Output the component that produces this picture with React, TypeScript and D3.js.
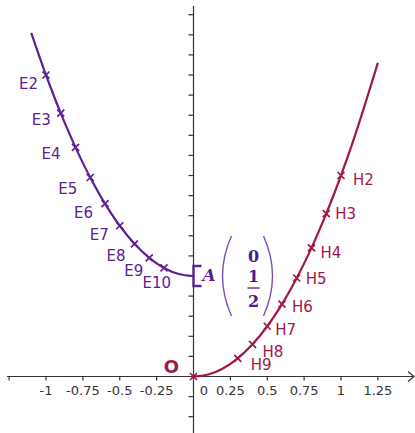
import React, { useRef, useEffect } from "react";
import * as d3 from "d3";

// axis ticks (x in units, y every 0.1, unlabeled)
const xTicks = [-1.25, -1, -0.75, -0.5, -0.25, 0.25, 0.5, 0.75, 1, 1.25];
const xTickLabels = ["", "-1", "-0.75", "-0.5", "-0.25", "0.25", "0.5", "0.75", "1", "1.25"];
const yTicks = d3.range(-3, 19).filter((d) => d !== 0).map((d) => d / 10);

// purple curve, ends at A
const curveE = [
  [-1.1, 1.71], [-1.0, 1.5], [-0.9, 1.31], [-0.8, 1.14], [-0.7, 0.99], [-0.6, 0.86],
  [-0.5, 0.75], [-0.4, 0.66], [-0.3, 0.59], [-0.2, 0.54], [-0.1, 0.51], [0, 0.5],
];
// red curve, starts at O
const curveH = [
  [0, 0], [0.1, 0.01], [0.2, 0.04], [0.3, 0.09], [0.4, 0.16], [0.5, 0.25], [0.6, 0.36],
  [0.7, 0.49], [0.8, 0.64], [0.9, 0.81], [1.0, 1.0], [1.1, 1.21], [1.25, 1.56],
];

const namesE = ["E2", "E3", "E4", "E5", "E6", "E7", "E8", "E9", "E10"];
const xE = [-1, -0.9, -0.8, -0.7, -0.6, -0.5, -0.4, -0.3, -0.2];
const yE = [1.5, 1.31, 1.14, 0.99, 0.86, 0.75, 0.66, 0.59, 0.54];

const namesH = ["H2", "H3", "H4", "H5", "H6", "H7", "H8", "H9"];
const xH = [1, 0.9, 0.8, 0.7, 0.6, 0.5, 0.4, 0.3];
const yH = [1, 0.81, 0.64, 0.49, 0.36, 0.25, 0.16, 0.09];

const pointA = [0, 0.5];
const vectorA = ["0", "1", "2"];

// label nudges (px) relative to the marker
const offE = [[-8, 14], [-10, 12], [-15, 12], [-13, 16], [-12, 14], [-11, 14], [-9, 17], [-6, 18], [7, 20]];
const offH = [[12, 9], [9, 5], [9, 10], [9, 6], [10, 8], [8, 9], [10, 13], [13, 12]];

const PURPLE = "#5d2196";
const RED = "#a0184a";
const AXIS = "#333333";
const SANS = "'DejaVu Sans', sans-serif";
const SERIF = "'DejaVu Serif', serif";

const App = () => {
  const svgRef = useRef(null);

  useEffect(() => {
    const width = 415;
    const height = 433;
    const svg = d3.select(svgRef.current);
    svg.selectAll("*").remove();

    const x = d3.scaleLinear().domain([0, 1]).range([193.5, 341]);
    const y = d3.scaleLinear().domain([0, 1]).range([376.5, 175.5]);

    // axes
    const axes = svg.append("g").attr("stroke", AXIS).attr("stroke-width", 1.2).attr("fill", "none");
    axes.append("line").attr("x1", 7).attr("x2", width - 1).attr("y1", y(0)).attr("y2", y(0));
    axes.append("path").attr("d", `M${width - 7},${y(0) - 5}L${width - 1},${y(0)}L${width - 7},${y(0) + 5}`);
    axes.append("line").attr("x1", x(0)).attr("x2", x(0)).attr("y1", 6).attr("y2", height);

    axes.selectAll(".xt").data(xTicks).join("line")
      .attr("x1", (d) => x(d)).attr("x2", (d) => x(d))
      .attr("y1", y(0)).attr("y2", y(0) + 4);
    axes.selectAll(".yt").data(yTicks).join("line")
      .attr("x1", x(0) - 5).attr("x2", x(0))
      .attr("y1", (d) => y(d)).attr("y2", (d) => y(d));

    const tl = svg.append("g").attr("font-family", SANS).attr("font-size", 13)
      .attr("fill", AXIS).attr("text-anchor", "middle");
    tl.selectAll("text").data(xTicks).join("text")
      .attr("x", (d) => x(d)).attr("y", y(0) + 18.5)
      .text((d, i) => xTickLabels[i]);
    tl.append("text").attr("x", x(0) + 10.5).attr("y", y(0) + 18.5).text("0");

    const line = d3.line().x((d) => x(d[0])).y((d) => y(d[1])).curve(d3.curveCatmullRom);

    svg.append("path").attr("d", line(curveE)).attr("fill", "none")
      .attr("stroke", PURPLE).attr("stroke-width", 2.2);
    svg.append("path").attr("d", line(curveH)).attr("fill", "none")
      .attr("stroke", RED).attr("stroke-width", 2.2);

    const cross = (g, cx, cy, color) => {
      const s = 3.5;
      g.append("path")
        .attr("d", `M${cx - s},${cy - s}L${cx + s},${cy + s}M${cx - s},${cy + s}L${cx + s},${cy - s}`)
        .attr("stroke", color).attr("stroke-width", 1.7).attr("fill", "none");
    };

    const gE = svg.append("g");
    namesE.forEach((n, i) => {
      const cx = x(xE[i]);
      const cy = y(yE[i]);
      cross(gE, cx, cy, PURPLE);
      gE.append("text").attr("x", cx + offE[i][0]).attr("y", cy + offE[i][1])
        .attr("text-anchor", "end").attr("font-family", SANS).attr("font-size", 15)
        .attr("fill", PURPLE).text(n);
    });

    const gH = svg.append("g");
    namesH.forEach((n, i) => {
      const cx = x(xH[i]);
      const cy = y(yH[i]);
      cross(gH, cx, cy, RED);
      gH.append("text").attr("x", cx + offH[i][0]).attr("y", cy + offH[i][1])
        .attr("font-family", SANS).attr("font-size", 15)
        .attr("fill", RED).text(n);
    });

    // origin O
    cross(gH, x(0), y(0), RED);
    gH.append("text").attr("x", x(0) - 22).attr("y", y(0) - 4)
      .attr("text-anchor", "middle").attr("font-family", SANS).attr("font-weight", "bold")
      .attr("font-size", 18).attr("fill", RED).text("O");

    // point A drawn as a bracket
    const ax = x(pointA[0]);
    const ay = y(pointA[1]);
    svg.append("path")
      .attr("d", `M${ax + 8},${ay - 10}L${ax},${ay - 10}L${ax},${ay + 10}L${ax + 8},${ay + 10}`)
      .attr("fill", "none").attr("stroke", PURPLE).attr("stroke-width", 2.4);
    svg.append("text").attr("x", ax + 9).attr("y", ay + 5)
      .attr("font-family", SERIF).attr("font-weight", "bold").attr("font-style", "italic")
      .attr("font-size", 17).attr("fill", PURPLE).text("A");

    // column vector (0, 1/2)
    const vx = ax + 60;
    const gv = svg.append("g");
    gv.append("path").attr("d", `M ${ax + 38} ${ay - 40} Q ${ax + 20} ${ay} ${ax + 38} ${ay + 40}`)
      .attr("fill", "none").attr("stroke", "#7a4dbd").attr("stroke-width", 1.4);
    gv.append("path").attr("d", `M ${ax + 70} ${ay - 40} Q ${ax + 88} ${ay} ${ax + 70} ${ay + 40}`)
      .attr("fill", "none").attr("stroke", "#7a4dbd").attr("stroke-width", 1.4);
    const vt = gv.append("g").attr("font-family", SERIF).attr("font-weight", "bold")
      .attr("font-size", 16).attr("fill", "#4e1a8c").attr("text-anchor", "middle");
    vt.append("text").attr("x", vx).attr("y", ay - 14).text(vectorA[0]);
    vt.append("text").attr("x", vx).attr("y", ay + 6).text(vectorA[1]);
    gv.append("line").attr("x1", vx - 6).attr("x2", vx + 6).attr("y1", ay + 12).attr("y2", ay + 12)
      .attr("stroke", "#4e1a8c").attr("stroke-width", 1.3);
    vt.append("text").attr("x", vx).attr("y", ay + 31).text(vectorA[2]);
  }, []);

  return (
    <svg
      ref={svgRef}
      width={415}
      height={433}
      style={{ position: "absolute", left: 0, top: 0, background: "#ffffff" }}
    />
  );
};

export default App;
